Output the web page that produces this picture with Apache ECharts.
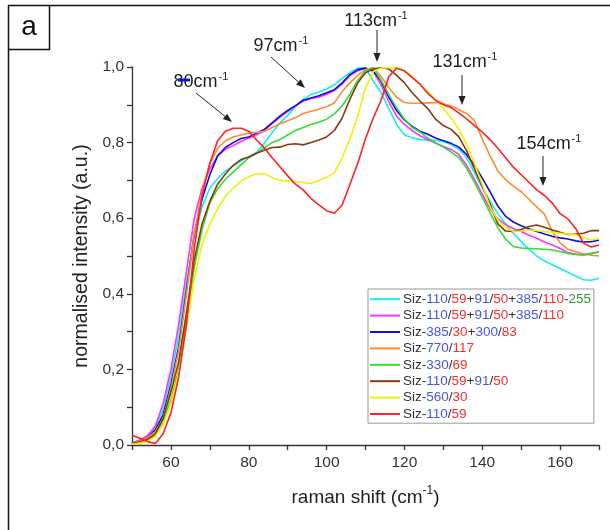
<!DOCTYPE html>
<html>
<head>
<meta charset="utf-8">
<script src="https://cdn.jsdelivr.net/npm/echarts@6/dist/echarts.min.js"></script>
<style>html,body{margin:0;padding:0;background:#fff}#c{width:610px;height:530px}</style>
</head>
<body>
<div id="c"></div>
<script>
const xs = [50,52,54,56,58,60,62,64,66,68,70,72,74,76,78,80,82,84,86,88,90,92,94,96,98,100,102,104,106,108,110,112,114,116,118,120,122,124,126,128,130,132,134,136,138,140,142,144,146,148,150,152,154,156,158,160,162,164,166,168,170];

const names = [
  'Siz-110/59+91/50+385/110-255',
  'Siz-110/59+91/50+385/110',
  'Siz-385/30+300/83',
  'Siz-770/117',
  'Siz-330/69',
  'Siz-110/59+91/50',
  'Siz-560/30',
  'Siz-110/59'
];
const colors = ['#11f0f0','#ff33ff','#1010dd','#ff8c33','#33dd33','#8b3a10','#f0f000','#ff2222'];

const cyan = [0.005,0.01,0.022,0.045,0.095,0.18,0.29,0.43,0.55,0.63,0.68,0.705,0.725,0.738,0.752,0.763,0.774,0.798,0.826,0.852,0.872,0.895,0.915,0.927,0.934,0.942,0.953,0.97,0.985,0.997,0.998,0.963,0.932,0.89,0.848,0.82,0.813,0.808,0.806,0.806,0.803,0.795,0.783,0.76,0.72,0.68,0.645,0.612,0.585,0.56,0.538,0.518,0.5,0.487,0.477,0.467,0.457,0.447,0.437,0.436,0.441];
const magenta = [0.005,0.013,0.025,0.05,0.11,0.2,0.32,0.46,0.6,0.68,0.73,0.765,0.782,0.792,0.803,0.812,0.82,0.832,0.85,0.867,0.882,0.897,0.91,0.917,0.92,0.928,0.938,0.955,0.977,0.99,0.997,0.988,0.952,0.908,0.87,0.848,0.832,0.818,0.808,0.798,0.79,0.782,0.768,0.74,0.703,0.664,0.625,0.598,0.583,0.573,0.565,0.555,0.547,0.537,0.529,0.52,0.509,0.505,0.503,0.506,0.511];
const blue = [0.005,0.01,0.02,0.04,0.08,0.16,0.26,0.41,0.56,0.65,0.715,0.765,0.787,0.8,0.811,0.815,0.825,0.835,0.852,0.87,0.885,0.898,0.912,0.918,0.924,0.932,0.94,0.958,0.98,0.993,0.997,0.99,0.962,0.92,0.885,0.86,0.843,0.83,0.822,0.812,0.805,0.798,0.788,0.768,0.74,0.706,0.67,0.632,0.605,0.59,0.58,0.572,0.565,0.558,0.552,0.548,0.545,0.54,0.537,0.538,0.542];
const orange = [0.005,0.01,0.02,0.035,0.07,0.15,0.25,0.4,0.56,0.67,0.745,0.785,0.805,0.815,0.82,0.825,0.827,0.83,0.84,0.85,0.858,0.866,0.877,0.883,0.888,0.895,0.905,0.935,0.958,0.978,0.993,0.998,0.975,0.945,0.92,0.906,0.904,0.904,0.905,0.906,0.903,0.897,0.887,0.877,0.858,0.81,0.765,0.725,0.702,0.685,0.67,0.65,0.63,0.61,0.565,0.535,0.518,0.511,0.506,0.502,0.5];
const green = [0.003,0.006,0.012,0.025,0.06,0.12,0.2,0.33,0.47,0.57,0.64,0.678,0.703,0.722,0.741,0.76,0.772,0.786,0.8,0.808,0.82,0.832,0.84,0.848,0.854,0.862,0.876,0.897,0.928,0.965,0.99,0.998,0.965,0.927,0.892,0.862,0.84,0.828,0.812,0.8,0.788,0.775,0.76,0.732,0.695,0.655,0.615,0.575,0.545,0.525,0.521,0.52,0.519,0.518,0.516,0.512,0.507,0.504,0.503,0.507,0.511];
const brown = [0.004,0.008,0.015,0.03,0.07,0.14,0.22,0.35,0.49,0.585,0.645,0.69,0.717,0.74,0.755,0.762,0.772,0.78,0.787,0.788,0.795,0.797,0.794,0.8,0.807,0.815,0.832,0.865,0.915,0.958,0.985,0.995,0.998,0.995,0.978,0.958,0.932,0.91,0.89,0.862,0.845,0.835,0.815,0.778,0.73,0.685,0.638,0.585,0.566,0.565,0.57,0.578,0.582,0.576,0.569,0.563,0.557,0.558,0.56,0.567,0.567];
const yellow = [0.002,0.005,0.01,0.022,0.055,0.11,0.19,0.31,0.44,0.53,0.585,0.625,0.658,0.68,0.698,0.71,0.717,0.718,0.708,0.7,0.698,0.697,0.694,0.692,0.7,0.708,0.72,0.76,0.81,0.87,0.945,0.988,0.997,0.998,0.998,0.99,0.975,0.953,0.935,0.913,0.89,0.865,0.835,0.795,0.745,0.69,0.63,0.595,0.575,0.565,0.566,0.569,0.567,0.565,0.562,0.56,0.558,0.556,0.548,0.542,0.546];
const red = [0.026,0.018,0.009,0.004,0.03,0.085,0.18,0.32,0.52,0.66,0.745,0.805,0.83,0.838,0.838,0.83,0.807,0.786,0.76,0.736,0.712,0.69,0.675,0.652,0.635,0.62,0.613,0.635,0.69,0.745,0.81,0.865,0.912,0.975,0.997,0.99,0.972,0.955,0.93,0.912,0.9,0.893,0.878,0.863,0.845,0.828,0.808,0.785,0.76,0.735,0.715,0.695,0.675,0.66,0.64,0.612,0.598,0.573,0.534,0.524,0.529];

const seriesValues = [cyan, magenta, blue, orange, green, brown, yellow, red];

const xTickLabels = [60,80,100,120,140,160];
const yTickLabels = ['0,0','0,2','0,4','0,6','0,8','1,0'];

const annotations = [
  {text:'113', tx:376, ty:20, ax1:377, ay1:30, ax2:377, ay2:62},
  {text:'97',  tx:281, ty:45, ax1:271, ay1:57, ax2:305, ay2:88},
  {text:'80',  tx:201, ty:81, ax1:196, ay1:93, ax2:232, ay2:122},
  {text:'131', tx:465, ty:61, ax1:462, ay1:75, ax2:462, ay2:105},
  {text:'154', tx:549, ty:143, ax1:543, ay1:156, ax2:543, ay2:186}
];

const FONT = 'Liberation Sans, Arial, sans-serif';

function legendFmt(name){
  const body = name.slice(4);
  const toks = body.split(/([\/+\-])/);
  let out = '{k|Siz-}';
  let c = 'b';
  toks.forEach(t => {
    if (t === '') return;
    if (t === '/' || t === '+' || t === '-') {
      out += '{k|' + t + '}';
      c = t === '/' ? 'r' : (t === '+' ? 'b' : 'g');
    } else {
      out += '{' + c + '|' + t + '}';
    }
  });
  return out;
}

function arrow(x1,y1,x2,y2){
  const ang = Math.atan2(y2-y1, x2-x1);
  const L = 9, W = 3.5;
  const bx = x2 - L*Math.cos(ang), by = y2 - L*Math.sin(ang);
  const px = -Math.sin(ang), py = Math.cos(ang);
  return [
    {type:'line', shape:{x1:x1,y1:y1,x2:bx,y2:by}, style:{stroke:'#222', lineWidth:1}},
    {type:'polygon', shape:{points:[[x2,y2],[bx+px*W,by+py*W],[bx-px*W,by-py*W]]}, style:{fill:'#222'}}
  ];
}

const graphics = [
  {type:'line', shape:{x1:8,y1:5.5,x2:610,y2:5.5}, style:{stroke:'#111', lineWidth:1.5}},
  {type:'line', shape:{x1:8.5,y1:5,x2:8.5,y2:530}, style:{stroke:'#111', lineWidth:1.5}},
  {type:'line', shape:{x1:49.5,y1:5,x2:49.5,y2:50}, style:{stroke:'#111', lineWidth:1.5}},
  {type:'line', shape:{x1:8,y1:49.5,x2:50,y2:49.5}, style:{stroke:'#111', lineWidth:1.5}},
  {type:'text', x:29, y:27, style:{text:'a', font:'28px ' + FONT, fill:'#111', align:'center', verticalAlign:'middle'}},
  {type:'line', shape:{x1:178,y1:80,x2:190,y2:80}, style:{stroke:'#1010dd', lineWidth:3}, z:10}
];
annotations.forEach(a => {
  graphics.push({type:'text', x:a.tx, y:a.ty, z:5, style:{
    text:'{n|' + a.text + 'cm}{s|-1}', align:'center', verticalAlign:'middle',
    rich:{n:{fontSize:18, fontFamily:FONT, fill:'#222', verticalAlign:'bottom', lineHeight:20},
          s:{fontSize:11, fontFamily:FONT, fill:'#222', verticalAlign:'top', lineHeight:20, padding:[0,0,0,1]}}
  }});
  arrow(a.ax1,a.ay1,a.ax2,a.ay2).forEach(g => graphics.push(g));
});

const richBase = {fontSize:13.5, fontFamily:FONT, lineHeight:16.4};
const chart = echarts.init(document.getElementById('c'), null, {renderer:'canvas'});
chart.setOption({
  animation:false,
  backgroundColor:'#fff',
  grid:{left:132, right:11, top:67, bottom:85},
  legend:{
    orient:'vertical', left:368, top:289,
    padding:[2,3,1,2], itemGap:0, itemWidth:30, itemHeight:2, icon:'rect',
    backgroundColor:'#fff', borderColor:'#999', borderWidth:1,
    data:names,
    formatter:legendFmt,
    textStyle:{fontSize:13.5, fontFamily:FONT, lineHeight:16.4, padding:[0,0,0,-2],
      rich:{k:Object.assign({color:'#333'}, richBase),
            b:Object.assign({color:'#4455ee'}, richBase),
            r:Object.assign({color:'#ff2a2a'}, richBase),
            g:Object.assign({color:'#2a9a2a'}, richBase)}}
  },
  xAxis:{
    type:'value', min:50, max:170, interval:10,
    name:'{n|raman shift (cm}{s|-1}{n|)}', nameLocation:'middle', nameGap:40,
    nameTextStyle:{rich:{n:{fontSize:19, fontFamily:FONT, color:'#222', verticalAlign:'bottom', lineHeight:22},
                         s:{fontSize:12, fontFamily:FONT, color:'#222', verticalAlign:'top', lineHeight:22}}},
    axisLine:{show:true, onZero:false, lineStyle:{color:'#333', width:1.3}},
    axisTick:{show:true, length:5, lineStyle:{color:'#333', width:1.3}},
    axisLabel:{fontSize:15.5, fontFamily:FONT, color:'#333', margin:10,
      formatter:v => xTickLabels.indexOf(v) >= 0 ? String(v) : ''},
    splitLine:{show:false}
  },
  yAxis:{
    type:'value', min:0, max:1, interval:0.2,
    name:'normalised intensity (a.u.)', nameLocation:'middle', nameGap:37, nameRotate:90,
    nameTextStyle:{fontSize:19.5, fontFamily:FONT, color:'#222'},
    axisLine:{show:true, onZero:false, lineStyle:{color:'#333', width:1.3}},
    axisTick:{show:true, length:5, lineStyle:{color:'#333', width:1.3}},
    minorTick:{show:true, splitNumber:2, length:5, lineStyle:{color:'#333', width:1.3}},
    axisLabel:{fontSize:15.5, fontFamily:FONT, color:'#333', margin:8,
      formatter:v => yTickLabels[Math.round(v/0.2)]},
    splitLine:{show:false}, minorSplitLine:{show:false}
  },
  graphic:graphics,
  series:names.map((n,i) => ({
    name:n, type:'line', symbol:'none', smooth:false,
    data:xs.map((x,j) => [x, seriesValues[i][j]]),
    lineStyle:{color:colors[i], width:1.6}, itemStyle:{color:colors[i]}
  }))
});
</script>
</body>
</html>
